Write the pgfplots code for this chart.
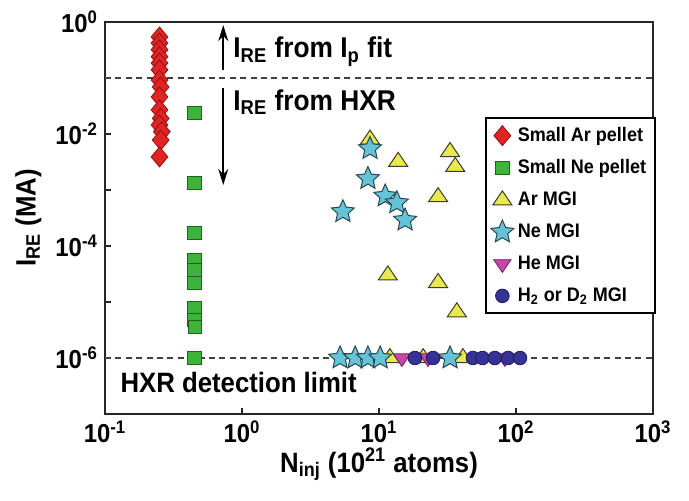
\documentclass[border=0pt]{standalone}
\usepackage{fontspec}
\setmainfont{Liberation Sans}[FakeStretch=0.92]
\usepackage{pgfplots}
\pgfplotsset{compat=1.18}
\usetikzlibrary{arrows.meta}

\definecolor{arred}{RGB}{225,35,35}
\definecolor{arredE}{RGB}{140,20,20}
\definecolor{negreen}{RGB}{60,180,60}
\definecolor{negreenE}{RGB}{30,100,30}
\definecolor{aryel}{RGB}{232,232,80}
\definecolor{aryelE}{RGB}{60,60,40}
\definecolor{necyan}{RGB}{100,195,215}
\definecolor{necyanE}{RGB}{40,70,80}
\definecolor{hepink}{RGB}{200,70,170}
\definecolor{hepinkE}{RGB}{110,30,100}
\definecolor{hblue}{RGB}{55,50,150}
\definecolor{hblueE}{RGB}{30,25,90}

% filled five-pointed star
\pgfdeclareplotmark{fstar}{%
  \pgfpathmoveto{\pgfqpointpolar{90}{\pgfplotmarksize}}%
  \pgfpathlineto{\pgfqpointpolar{126}{0.47\pgfplotmarksize}}%
  \pgfpathlineto{\pgfqpointpolar{162}{\pgfplotmarksize}}%
  \pgfpathlineto{\pgfqpointpolar{198}{0.47\pgfplotmarksize}}%
  \pgfpathlineto{\pgfqpointpolar{234}{\pgfplotmarksize}}%
  \pgfpathlineto{\pgfqpointpolar{270}{0.47\pgfplotmarksize}}%
  \pgfpathlineto{\pgfqpointpolar{306}{\pgfplotmarksize}}%
  \pgfpathlineto{\pgfqpointpolar{342}{0.47\pgfplotmarksize}}%
  \pgfpathlineto{\pgfqpointpolar{18}{\pgfplotmarksize}}%
  \pgfpathlineto{\pgfqpointpolar{54}{0.47\pgfplotmarksize}}%
  \pgfpathclose
  \pgfusepathqfillstroke
}

\begin{document}
\begin{tikzpicture}
\begin{axis}[
  at={(0,0)}, anchor=south west,
  scale only axis, width=274pt, height=196pt,
  xmode=log, ymode=log,
  xmin=0.1, xmax=1000, ymin=1e-7, ymax=1,
  xtick={0.1,1,10,100,1000},
  xticklabels={10\textsuperscript{-1},10\textsuperscript{0},10\textsuperscript{1},10\textsuperscript{2},10\textsuperscript{3}},
  ytick={1e-7,1e-6,1e-5,1e-4,1e-3,1e-2,1e-1,1},
  yticklabels={,10\textsuperscript{-6},,10\textsuperscript{-4},,10\textsuperscript{-2},,10\textsuperscript{0}},
  xminorticks=false, yminorticks=false,
  tick pos=left, tick align=inside, major tick length=3pt,
  tick style={black!85, line width=0.7pt},
  axis line style={black!85, line width=1pt},
  tick label style={font=\fontsize{13}{14}\selectfont\bfseries},
  xlabel={N\textsubscript{inj} (10\textsuperscript{21} atoms)},
  ylabel={I\textsubscript{RE} (MA)},
  every axis x label/.style={at={(axis description cs:0.5,0)}, yshift=-29pt, anchor=base,
    font=\fontsize{14}{16}\selectfont\bfseries},
  every axis y label/.style={at={(axis description cs:-0.14,0.5)}, rotate=90, anchor=center,
    font=\fontsize{14}{16}\selectfont\bfseries},
  legend style={at={(rel axis cs:0.693,0.758)}, anchor=north west, draw=black, line width=1.2pt,
    font=\fontsize{9.8}{12}\selectfont\bfseries, row sep=3.6pt, inner sep=2.5pt},
  legend cell align=left,
]
% reference levels
\addplot[forget plot, black!75, line width=0.7pt, dash pattern=on 3pt off 2.2pt]
  coordinates {(0.1,0.1)(1000,0.1)};
\addplot[forget plot, black!75, line width=0.7pt, dash pattern=on 3pt off 2.2pt]
  coordinates {(0.1,1e-6)(1000,1e-6)};

\addplot[only marks, mark=diamond*, mark size=5pt, fill=arred, draw=arredE, line width=0.4pt,
  mark options={xscale=1.12}]
  coordinates {(0.25,0.54)(0.25,0.42)(0.25,0.32)(0.25,0.24)(0.25,0.185)(0.25,0.14)
    (0.25,0.092)(0.255,0.069)(0.25,0.046)(0.25,0.027)(0.255,0.019)(0.25,0.0145)
    (0.26,0.011)(0.255,0.0078)(0.25,0.0039)};
\addlegendentry{Small Ar pellet}

\addplot[only marks, mark=square*, mark size=3.3pt, fill=negreen, draw=negreenE, line width=0.4pt]
  coordinates {(0.45,0.024)(0.45,1.33e-3)(0.45,1.7e-4)(0.45,5.6e-5)(0.45,3.7e-5)
    (0.45,2.2e-5)(0.45,7.8e-6)(0.45,4.8e-6)(0.455,3.6e-6)(0.45,1e-6)};
\addlegendentry{Small Ne pellet}

\addplot[only marks, mark=triangle*, mark size=5.5pt, fill=aryel, draw=aryelE, line width=0.5pt,
  mark options={yscale=0.85}]
  coordinates {(8.6,0.008)(13.8,0.0032)(33,0.0048)(36,0.0026)(27,7.5e-4)(11.6,3.0e-5)
    (27,2.2e-5)(37,6.6e-6)(12,1e-6)(21,1e-6)(41,1e-6)};
\addlegendentry{Ar MGI}

\addplot[only marks, mark=fstar, mark size=6pt, fill=necyan, draw=necyanE, line width=0.5pt]
  coordinates {(8.6,0.0055)(8.3,1.6e-3)(11.1,7.8e-4)(13.5,5.9e-4)(15.5,2.9e-4)(5.45,4.1e-4)
    (5.2,1e-6)(6.7,1e-6)(8.3,1e-6)(10.2,1e-6)(33,1e-6)};
\addlegendentry{Ne MGI}

\addplot[only marks, mark=triangle*, mark size=5pt, fill=hepink, draw=hepinkE, line width=0.4pt,
  mark options={rotate=180, yscale=0.85}]
  coordinates {(14.7,1e-6)(22.8,1e-6)(83,1e-6)};
\addlegendentry{He MGI}

\addplot[only marks, mark=*, mark size=3.4pt, fill=hblue, draw=hblueE, line width=0.4pt]
  coordinates {(18.3,1e-6)(24.8,1e-6)(48.5,1e-6)(57,1e-6)(70,1e-6)(87.5,1e-6)(107,1e-6)};
\addlegendentry{H\textsubscript{2} or D\textsubscript{2} MGI}

% annotations
\draw[line width=0.8pt, -{Stealth[length=8pt,width=5pt]}] (axis cs:0.73,0.139) -- (axis cs:0.73,0.88);
\draw[line width=0.8pt, -{Stealth[length=8pt,width=5pt]}] (axis cs:0.73,0.066) -- (axis cs:0.73,1.23e-3);
\node[anchor=base west, inner sep=0pt, font=\fontsize{14.3}{16}\selectfont\bfseries]
  at (axis cs:0.86,0.228) {I\textsubscript{RE} from I\textsubscript{p} fit};
\node[anchor=base west, inner sep=0pt, font=\fontsize{14.3}{16}\selectfont\bfseries]
  at (axis cs:0.86,0.0268) {I\textsubscript{RE} from HXR};
\node[anchor=base west, inner sep=0pt, font=\fontsize{14}{16}\selectfont\bfseries]
  at (axis cs:0.129,2.47e-7) {HXR detection limit};
\end{axis}
\pgfresetboundingbox
\path[use as bounding box] (-52.5pt,-43.5pt) rectangle (292pt,207pt);
\end{tikzpicture}
\end{document}
